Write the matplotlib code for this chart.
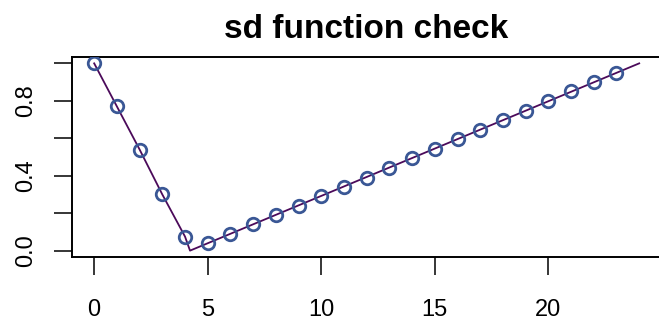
import matplotlib
matplotlib.use("Agg")
import matplotlib.pyplot as plt

# sd values checked at integer points
pt_x = list(range(24))
pt_y = [1.0, 0.77, 0.54, 0.30, 0.075, 0.039, 0.09, 0.14, 0.19, 0.24, 0.29, 0.34,
        0.39, 0.44, 0.495, 0.545, 0.595, 0.645, 0.695, 0.745, 0.80, 0.85, 0.90, 0.95]

# underlying function curve
line_x = [0, 1, 2, 3, 4, 4.22, 24]
line_y = [1.0, 0.77, 0.54, 0.30, 0.075, 0.0, 1.0]

yticks = [0.0, 0.2, 0.4, 0.6, 0.8, 1.0]
ylabels = ["0.0", "", "0.4", "", "0.8", ""]
xticks = [0, 5, 10, 15, 20]

plt.rcParams['font.family'] = ['Liberation Sans', 'DejaVu Sans']

fig = plt.figure(figsize=(6.59, 3.20), dpi=100)
ax = fig.add_axes([71.7 / 659, 63 / 320, (661 - 71.7) / 659, 200 / 320])

ax.plot(line_x, line_y, color="#4B0A5A", lw=1.3, zorder=2)
ax.plot(pt_x, pt_y, "o", mfc="none", mec="#3A5795", mew=2, ms=9, zorder=3)

ax.set_xlim(-0.99, 24.96)
ax.set_ylim(-0.034, 1.034)
ax.set_xticks(xticks)
ax.set_xticklabels([str(t) for t in xticks], fontsize=17)
ax.set_yticks(yticks)
ax.set_yticklabels(ylabels, fontsize=17, rotation=90, va="center")
ax.tick_params(length=13, width=1.1, color="black")
ax.tick_params(axis="x", pad=17)
ax.tick_params(axis="y", pad=12)
for s in ax.spines.values():
    s.set_linewidth(1.4)

fig.text(366 / 659, 1 - 38 / 320, "sd function check", ha="center", va="baseline",
         fontsize=24, fontweight="bold")

fig.savefig("out.png", dpi=100)
